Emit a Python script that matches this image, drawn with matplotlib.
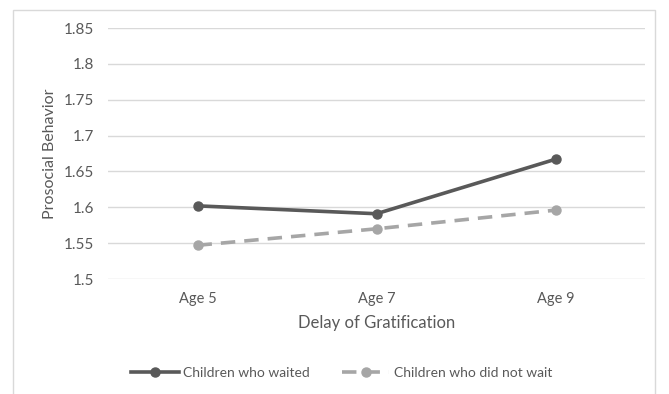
import matplotlib
matplotlib.use("Agg")
import matplotlib.pyplot as plt
from matplotlib.patches import Rectangle

categories = ["Age 5", "Age 7", "Age 9"]
waited = [1.602, 1.591, 1.667]
not_waited = [1.547, 1.570, 1.596]
yticks = [1.5, 1.55, 1.6, 1.65, 1.7, 1.75, 1.8, 1.85]
ytick_labels = ["1.5", "1.55", "1.6", "1.65", "1.7", "1.75", "1.8", "1.85"]

plt.rcParams['font.family'] = ['Lato', 'DejaVu Sans']
txt = "#595959"

fig = plt.figure(figsize=(6.69, 3.94), dpi=100)
fig.patches.append(Rectangle((13/669, -0.01), (655-13)/669, 1 - 10/394 + 0.01,
                             transform=fig.transFigure, fill=False,
                             edgecolor="#d9d9d9", linewidth=1.0))
ax = fig.add_axes([108/669, 1-279/394, (645-108)/669, (279-28)/394])
x = list(range(len(categories)))
ax.plot(x, waited, color="#595959", lw=2.6, marker="o", ms=6.5,
        label="Children who waited", zorder=3)
ax.plot(x, not_waited, color="#a6a6a6", lw=2.6, ls=(0, (4, 2.5)), marker="o", ms=6.5,
        label="Children who did not wait", zorder=3)
ax.set_xlim(-0.5, 2.5)
ax.set_ylim(1.5, 1.85)
ax.set_yticks(yticks)
ax.set_yticklabels(ytick_labels)
ax.set_xticks(x)
ax.set_xticklabels(categories)
ax.grid(axis="y", color="#d9d9d9", lw=1)
ax.set_axisbelow(True)
for s in ax.spines.values():
    s.set_visible(False)
ax.tick_params(length=0, colors=txt, labelsize=10.5)
ax.tick_params(axis="y", labelsize=11, pad=10)
ax.tick_params(axis="x", pad=9)
ax.set_xlabel("Delay of Gratification", color=txt, fontsize=12, labelpad=7)
ax.set_ylabel("Prosocial Behavior", color=txt, fontsize=11.5, labelpad=5)
leg = fig.legend(loc="center", bbox_to_anchor=(342/669, 1-373/394), ncol=2,
                 frameon=False, fontsize=10, handlelength=3.4, columnspacing=2.3,
                 handletextpad=0.35)
for t in leg.get_texts():
    t.set_color(txt)
fig.savefig("out.png", dpi=100)
